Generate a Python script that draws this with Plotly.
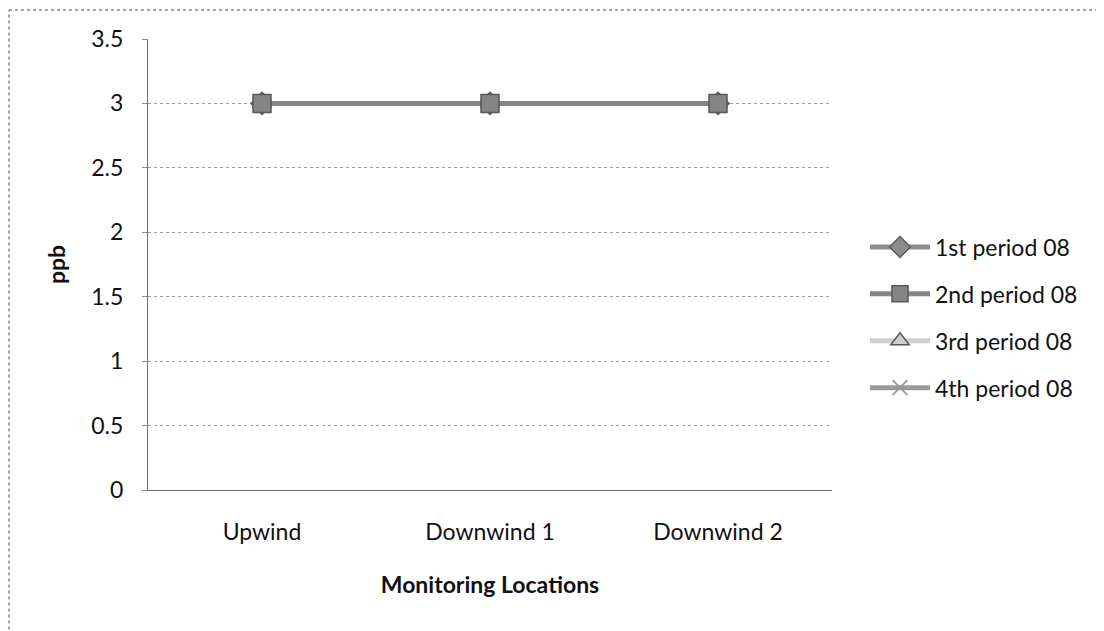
import plotly.graph_objects as go

categories = ["Upwind", "Downwind 1", "Downwind 2"]
series_names = ["1st period 08", "2nd period 08", "3rd period 08", "4th period 08"]
period1 = [3, 3, 3]
period2 = [3, 3, 3]
period3 = [3, 3, 3]
period4 = [3, 3, 3]
y_ticks = [0, 0.5, 1, 1.5, 2, 2.5, 3, 3.5]
y_tick_labels = ["0", "0.5", "1", "1.5", "2", "2.5", "3", "3.5"]

styles = [
    dict(color="#8c8c8c", symbol="diamond", size=17),
    dict(color="#858585", symbol="square", size=18),
    dict(color="#cfcfcf", symbol="triangle-up", size=16),
    dict(color="#9a9a9a", symbol="x-thin-open", size=15),
]
values = [period1, period2, period3, period4]

fig = go.Figure()
draw_order = [0, 2, 3, 1]
for i in draw_order:
    st = styles[i]
    fig.add_trace(go.Scatter(
        x=categories, y=values[i], name=series_names[i], mode="lines+markers",
        legendrank=i + 1, legendgroup=series_names[i],
        line=dict(color=st["color"], width=5),
        marker=dict(symbol=st["symbol"], size=st["size"], color=st["color"],
                    line=dict(color="#5a5a5a", width=1.5 if i != 3 else 2)),
    ))

# page has an 8px body margin; figure coordinates = page - 8
W, H = 1096, 623
L, R, T, B = 140, 272, 31, 141
pw, ph = W - L - R, H - T - B
font_family = "Lato, Open Sans, sans-serif"
fig.update_layout(
    width=W, height=H,
    paper_bgcolor="white", plot_bgcolor="white",
    margin=dict(l=L, r=R, t=T, b=B),
    font=dict(family=font_family, size=23, color="#111111"),
    xaxis=dict(
        type="category", range=[-0.5, 2.5],
        showline=True, linecolor="#707070", linewidth=1,
        showgrid=False, ticks="", ticklabelstandoff=21,
        tickfont=dict(size=23),
        title=dict(text="<b>Monitoring Locations</b>", font=dict(size=23), standoff=33),
    ),
    yaxis=dict(
        range=[0, 3.5], tickvals=y_ticks, ticktext=y_tick_labels,
        showline=True, linecolor="#707070", linewidth=1,
        showgrid=True, gridcolor="#a0a0a0", gridwidth=1, griddash="dot",
        zeroline=False, ticks="outside", ticklen=5, tickcolor="#909090",
        ticklabelstandoff=14, tickfont=dict(size=23),
        title=dict(text="<b>ppb</b>", font=dict(size=23), standoff=19),
    ),
    legend=dict(
        x=(857 - L) / pw, y=(H - B - 309.5) / ph, xanchor="left", yanchor="middle",
        font=dict(size=23), tracegroupgap=14, itemwidth=60,
        bgcolor="rgba(0,0,0,0)",
    ),
    shapes=[
        dict(type="line", xref="paper", yref="paper",
             x0=(1 - L) / pw, x1=(1 - L) / pw, y0=-B / ph - 0.01, y1=(H - B - 2) / ph,
             line=dict(color="#888888", width=1.5, dash="dot")),
        dict(type="line", xref="paper", yref="paper",
             x0=(1 - L) / pw, x1=(W - L) / pw, y0=(H - B - 2) / ph, y1=(H - B - 2) / ph,
             line=dict(color="#888888", width=1.5, dash="dot")),
    ],
)

fig.write_html("out.html")
